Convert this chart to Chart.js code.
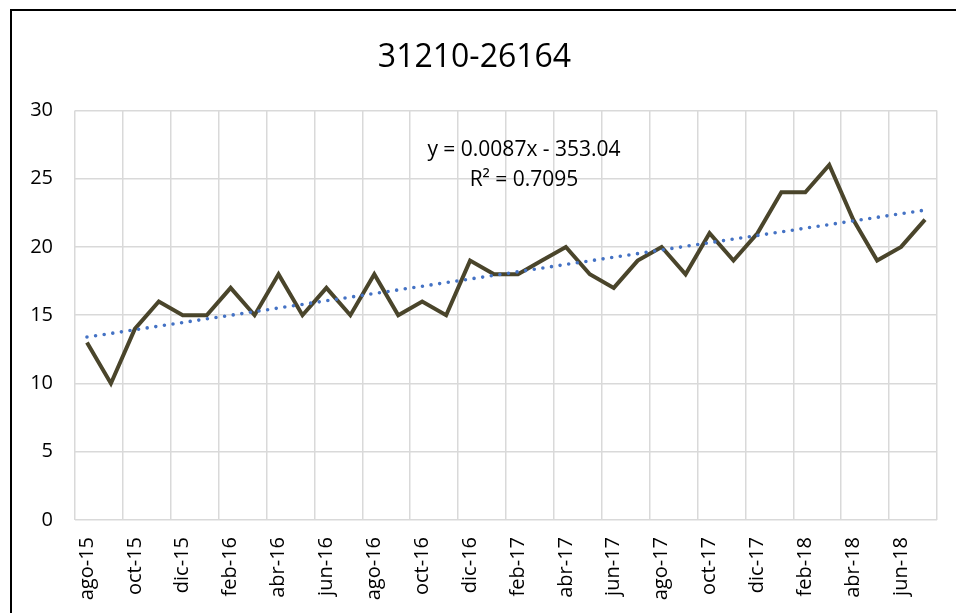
<!DOCTYPE html>
<html>
<head>
<meta charset="utf-8">
<script src="https://cdn.jsdelivr.net/npm/chart.js@4"></script>
<style>
  html, body { margin: 0; padding: 0; overflow: hidden; background: #fff; }
  #wrap {
    position: absolute; left: 10px; top: 9px;
    width: 960px; height: 610px;
    border-top: 2px solid #000; border-left: 2px solid #000;
  }
  #box { position: relative; width: 956px; height: 602px; }
</style>
</head>
<body>
<div id="wrap"><div id="box"><canvas id="chart"></canvas></div></div>
<script>
// months ago-15 .. jul-18
const months = [
  "ago-15","sep-15","oct-15","nov-15","dic-15","ene-16","feb-16","mar-16","abr-16","may-16","jun-16","jul-16",
  "ago-16","sep-16","oct-16","nov-16","dic-16","ene-17","feb-17","mar-17","abr-17","may-17","jun-17","jul-17",
  "ago-17","sep-17","oct-17","nov-17","dic-17","ene-18","feb-18","mar-18","abr-18","may-18","jun-18","jul-18"
];
const values = [
  13, 10, 14, 16, 15, 15, 17, 15, 18, 15, 17, 15,
  18, 15, 16, 15, 19, 18, 18, 19, 20, 18, 17, 19,
  20, 18, 21, 19, 21, 24, 24, 26, 22, 19, 20, 22
];
// linear trendline, ends
const trendStart = 13.4;
const trendEnd = 22.7;
const yTicks = [0, 5, 10, 15, 20, 25, 30];
const titleText = "31210-26164";
const eqLines = ["y = 0.0087x - 353.04", "R\u00b2 = 0.7095"];

const trend = months.map((m, i) => i == 0 ? trendStart : (i == months.length - 1 ? trendEnd : null));

const font = "'Open Sans', sans-serif";

const eqPlugin = {
  id: "eq",
  afterDraw(chart) {
    const ctx = chart.ctx;
    ctx.save();
    ctx.font = "21px " + font;
    ctx.fillStyle = "#000";
    ctx.textAlign = "center";
    ctx.textBaseline = "middle";
    ctx.fillText(eqLines[0], 512, 139);
    ctx.fillText(eqLines[1], 512, 169);
    ctx.restore();
  }
};

new Chart(document.getElementById("chart"), {
  type: "line",
  data: {
    labels: months,
    datasets: [
      {
        data: values,
        borderColor: "#4a452b",
        borderWidth: 4,
        pointRadius: 0,
        tension: 0,
        borderJoinStyle: "miter",
        order: 2
      },
      {
        data: trend,
        borderColor: "#4472c4",
        borderWidth: 3.6,
        borderDash: [0, 8.7],
        borderCapStyle: "round",
        pointRadius: 0,
        spanGaps: true,
        order: 1
      }
    ]
  },
  options: {
    responsive: true,
    maintainAspectRatio: false,
    animation: false,
    layout: { padding: { left: 0, right: 31, top: 0, bottom: 0 } },
    plugins: {
      legend: { display: false },
      tooltip: { enabled: false },
      title: {
        display: true,
        text: titleText,
        color: "#000",
        font: { family: font, size: 32, weight: "normal" },
        padding: { top: 28, bottom: 33 }
      }
    },
    scales: {
      x: {
        offset: true,
        grid: {
          offset: true,
          drawTicks: false,
          lineWidth: 1.5,
          color: (c) => (c.index % 2 ? "rgba(0,0,0,0)" : "#d9d9d9")
        },
        border: { display: false },
        ticks: {
          autoSkip: false,
          minRotation: 90,
          maxRotation: 90,
          padding: 17,
          color: "#000",
          font: { family: font, size: 20 },
          callback: (v, i) => (i % 2 ? "" : months[i])
        },
        afterFit: (s) => { s.height = 93; }
      },
      y: {
        min: 0,
        max: 30,
        afterBuildTicks: (s) => { s.ticks = yTicks.map(v => ({ value: v })); },
        grid: { drawTicks: false, lineWidth: 1.5, color: "#d9d9d9" },
        border: { display: false },
        ticks: {
          padding: 22,
          color: "#000",
          font: { family: font, size: 20 }
        },
        afterFit: (s) => { s.width = 63; }
      }
    }
  },
  plugins: [eqPlugin]
});
</script>
</body>
</html>
